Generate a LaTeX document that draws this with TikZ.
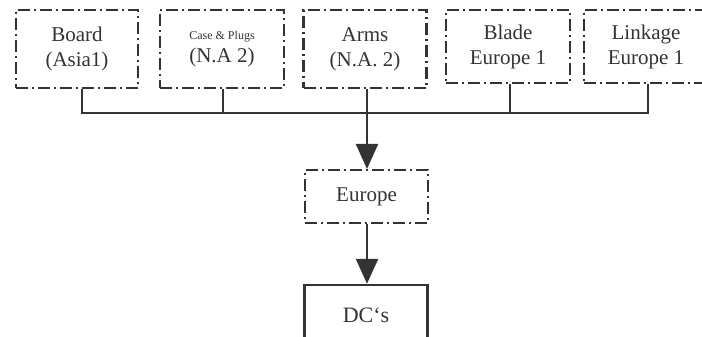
\documentclass[tikz,border=0pt]{standalone}
\usepackage{fontspec}
\setmainfont{Liberation Serif}
\usetikzlibrary{arrows.meta}
\definecolor{ink}{HTML}{333333}
\tikzset{
  dd/.style={draw=ink, line width=2.1pt, dash pattern=on 12pt off 4pt on 2pt off 4pt,
    rectangle, inner sep=0pt, align=center, text=ink,
    font=\fontsize{21}{25}\selectfont},
  solidbox/.style={draw=ink, line width=2.4pt, rectangle, inner sep=0pt, align=center, text=ink,
    font=\fontsize{22}{25}\selectfont},
  bus/.style={draw=ink, line width=2.4pt},
  arr/.style={bus, -{Triangle[length=25pt,width=22pt]}}
}
\begin{document}
\begin{tikzpicture}[x=1pt,y=-1pt]
\useasboundingbox (0,0) rectangle (702,337);
\node[dd, minimum width=122pt, minimum height=78pt] (b1) at (77,49) {Board\\(Asia1)};
\node[dd, minimum width=124pt, minimum height=78pt] (b2) at (222,49) {{\fontsize{12}{13}\selectfont Case \& Plugs}\\[-2pt](N.A 2)};
\node[dd, minimum width=123pt, minimum height=78pt] (b3) at (365,49) {Arms\\(N.A. 2)};
\node[dd, minimum width=124pt, minimum height=73pt] (b4) at (508,46.5) {Blade\\Europe 1};
\node[dd, minimum width=124pt, minimum height=73pt] (b5) at (646,46.5) {Linkage\\Europe 1};
\coordinate (busy) at (0,113);
\node[dd, minimum width=123pt, minimum height=53pt] (eu) at (366.5,196.5) {Europe};
\node[solidbox, minimum width=123pt, minimum height=70pt] (dc) at (366,320) {\raisebox{9pt}{DC‘s}};
\draw[bus] (b1.south -| 82,0) -- (82,113) -- (648,113) -- (b5.south -| 648,0);
\draw[bus] (b2.south -| 223,0) -- (223,113);
\draw[bus] (b4.south -| 510,0) -- (510,113);
\draw[bus] (b3.south -| 367,0) -- (367,113);
\draw[arr] (367,113) -- (eu.north -| 367,0);
\draw[arr] (eu.south -| 367,0) -- (dc.north -| 367,0);
\end{tikzpicture}
\end{document}
